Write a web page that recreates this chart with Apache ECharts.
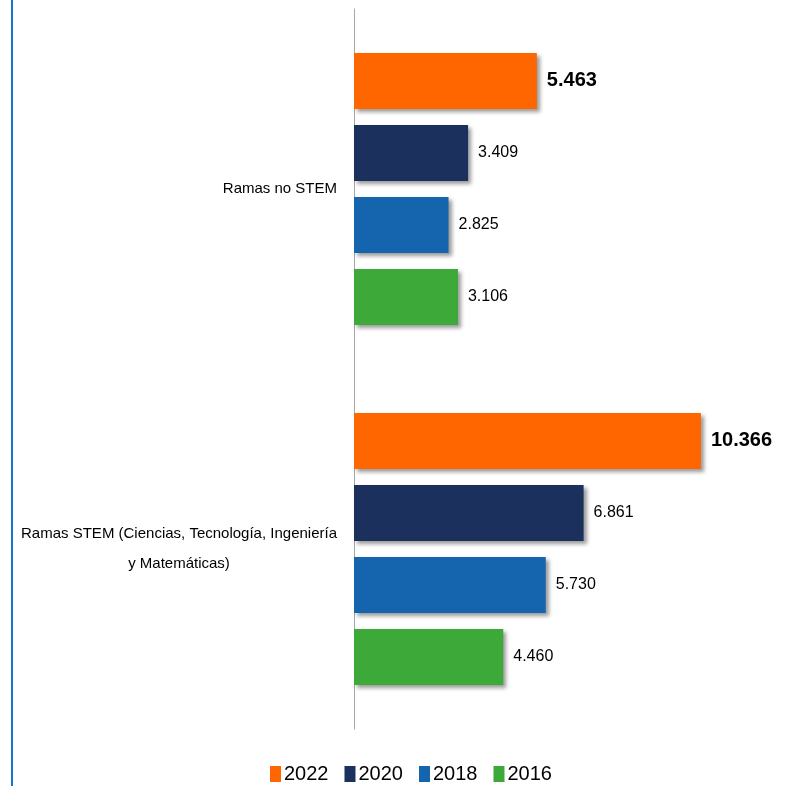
<!DOCTYPE html>
<html>
<head>
<meta charset="utf-8">
<script src="https://cdn.jsdelivr.net/npm/echarts@6/dist/echarts.min.js"></script>
<style>html,body{margin:0;padding:0;background:#fff}#c{width:787px;height:786px}</style>
</head>
<body>
<div id="c"></div>
<script>
const categories = ['Ramas no STEM', 'Ramas STEM (Ciencias, Tecnología, Ingeniería\ny Matemáticas)'];
const years = ['2022', '2020', '2018', '2016'];
const v2022 = [5463, 10366];
const v2020 = [3409, 6861];
const v2018 = [2825, 5730];
const v2016 = [3106, 4460];
const seriesValues = [v2022, v2020, v2018, v2016];
const colors = ['#FF6600', '#1B305D', '#1565AE', '#3CA938'];

const FONT = '"Liberation Sans", Arial, sans-serif';
function fmt(v) { return String(v).replace(/\B(?=(\d{3})+(?!\d))/g, '.'); }

const chart = echarts.init(document.getElementById('c'));
chart.setOption({
  animation: false,
  textStyle: { fontFamily: FONT },
  graphic: [{
    type: 'rect', shape: { x: 11, y: 0, width: 2, height: 786 },
    style: { fill: '#1874CD' }, silent: true
  }],
  legend: {
    top: 764, left: 270, itemWidth: 11, itemHeight: 16, itemGap: 16,
    icon: 'rect', padding: 0,
    textStyle: { fontSize: 20, fontFamily: FONT, color: '#000', padding: [0, 0, 0, -2] },
    data: years
  },
  grid: { left: 354, top: 9, width: 401.6, bottom: 57, containLabel: false, outerBoundsMode: 'none' },
  xAxis: {
    type: 'value', min: 0, max: 12000, show: false,
    splitLine: { show: false }
  },
  yAxis: {
    type: 'category', inverse: true, data: categories,
    axisLine: { lineStyle: { color: '#A6A6A6', width: 1 } },
    axisTick: { show: false },
    axisLabel: {
      margin: 17, align: 'right', fontSize: 15, color: '#000', fontFamily: FONT,
      formatter: function (val) {
        return val.split('\n').map(l => '{c|' + l + '}').join('\n');
      },
      rich: { c: { align: 'center', fontSize: 15, fontFamily: FONT, color: '#000', lineHeight: 30 } }
    }
  },
  series: years.map((y, i) => ({
    name: y, type: 'bar', data: seriesValues[i],
    barWidth: 56, barGap: '28.6%',
    itemStyle: {
      color: colors[i],
      shadowColor: 'rgba(0,0,0,0.4)', shadowBlur: 4, shadowOffsetX: 3, shadowOffsetY: 3
    },
    label: {
      show: true, position: 'right', distance: 10,
      formatter: p => fmt(p.value),
      fontFamily: FONT, color: '#000',
      fontSize: i === 0 ? 20 : 16,
      fontWeight: i === 0 ? 'bold' : 'normal'
    }
  }))
});
</script>
</body>
</html>
